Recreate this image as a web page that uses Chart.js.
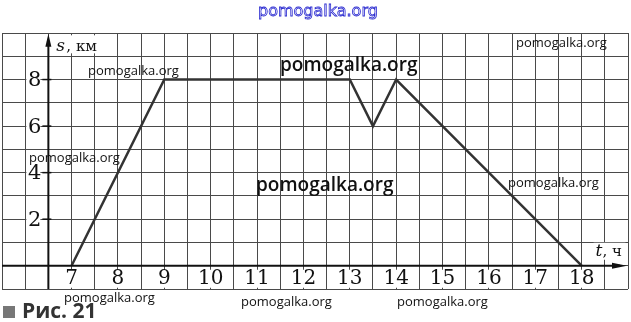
<!DOCTYPE html>
<html>
<head>
<meta charset="utf-8">
<script src="https://cdn.jsdelivr.net/npm/chart.js@4.4.1/dist/chart.umd.min.js"></script>
<style>
  html, body { margin: 0; padding: 0; background: #fff; }
  #wrap { width: 631px; height: 322px; position: relative; }
</style>
</head>
<body>
<div id="wrap"><canvas id="motionChart"></canvas></div>
<script>
// path of the trip: time (h) and distance (km)
const timeValues = [7, 9, 13, 13.5, 14, 18];
const distValues = [0, 8, 8, 6, 8, 0];

// tick labels
const xTickLabels = [7, 8, 9, 10, 11, 12, 13, 14, 15, 16, 17, 18];
const yTickLabels = [2, 4, 6, 8];

// watermark texts
const watermarks = ["pomogalka.org"];

const points = timeValues.map((t, i) => ({ x: t, y: distValues[i] }));

// draws axes with arrows, tick labels and the extra texts
const axesPlugin = {
    id: "axesPlugin",
    afterDatasetsDraw(chart) {
        const ctx = chart.ctx;
        const xs = chart.scales.x;
        const ys = chart.scales.y;
        const x0 = xs.getPixelForValue(6.5);
        const y0 = ys.getPixelForValue(0);

        ctx.save();
        ctx.strokeStyle = "#111";
        ctx.fillStyle = "#111";
        ctx.lineWidth = 2;

        // y axis
        const yTop = ys.getPixelForValue(9.8);
        ctx.beginPath();
        ctx.moveTo(x0, ys.getPixelForValue(-1));
        ctx.lineTo(x0, yTop + 4);
        ctx.stroke();
        ctx.beginPath();
        ctx.moveTo(x0, yTop - 4);
        ctx.lineTo(x0 - 3, yTop + 9);
        ctx.lineTo(x0 + 3, yTop + 9);
        ctx.closePath();
        ctx.fill();

        // x axis
        const xRight = xs.getPixelForValue(19) - 2;
        ctx.beginPath();
        ctx.moveTo(xs.getPixelForValue(5.5), y0);
        ctx.lineTo(xRight - 6, y0);
        ctx.stroke();
        ctx.beginPath();
        ctx.moveTo(xRight + 1, y0);
        ctx.lineTo(xRight - 14, y0 - 3);
        ctx.lineTo(xRight - 14, y0 + 3);
        ctx.closePath();
        ctx.fill();

        // y ticks and labels
        ctx.lineWidth = 1.5;
        ctx.font = "21px 'DejaVu Serif'";
        ctx.textAlign = "right";
        ctx.textBaseline = "middle";
        yTickLabels.forEach(v => {
            const py = ys.getPixelForValue(v);
            ctx.beginPath();
            ctx.moveTo(x0 - 6, py);
            ctx.lineTo(x0 + 3, py);
            ctx.stroke();
            ctx.fillStyle = "#fff";
            ctx.fillRect(x0 - 22, py - 9, 14, 18);
            ctx.fillStyle = "#111";
            ctx.fillText(String(v), x0 - 7, py + 1);
        });

        // x labels
        ctx.textAlign = "center";
        ctx.font = "20px 'DejaVu Serif'";
        xTickLabels.forEach(v => {
            const px = xs.getPixelForValue(v);
            const w = ctx.measureText(String(v)).width;
            ctx.fillStyle = "#fff";
            ctx.fillRect(px - w / 2 - 1, y0 + 4, w + 2, 18);
            ctx.fillStyle = "#111";
            ctx.fillText(String(v), px, y0 + 13);
        });

        // axis names
        ctx.textAlign = "left";
        ctx.fillStyle = "#fff";
        ctx.fillRect(x0 + 6, ys.getPixelForValue(9.9), 46, 18);
        ctx.fillStyle = "#111";
        ctx.font = "italic 17px 'DejaVu Serif'";
        ctx.fillText("s", x0 + 8, ys.getPixelForValue(9.4));
        ctx.font = "15px 'DejaVu Serif'";
        ctx.fillText(", км", x0 + 18, ys.getPixelForValue(9.4));

        const tx = xs.getPixelForValue(18.3);
        const ty = ys.getPixelForValue(0.6);
        ctx.fillStyle = "#fff";
        ctx.fillRect(tx - 2, ty - 9, 32, 17);
        ctx.fillStyle = "#111";
        ctx.font = "italic 17px 'DejaVu Serif'";
        ctx.fillText("t", tx, ty);
        ctx.font = "15px 'DejaVu Serif'";
        ctx.fillText(", ч", tx + 7, ty);

        // watermarks
        ctx.fillStyle = "#111";
        ctx.textAlign = "left";
        ctx.font = "13px 'Open Sans'";
        [[88, 71], [516, 43], [29, 158], [508, 183], [64, 298], [241, 302], [397, 302]].forEach(p => {
            ctx.fillText(watermarks[0], p[0], p[1]);
        });
        ctx.font = "600 19px 'Open Sans'";
        ctx.fillText(watermarks[0], 280, 66);
        ctx.fillText(watermarks[0], 256, 186);

        ctx.font = "16px 'DejaVu Sans'";
        ctx.lineWidth = 0.8;
        ctx.strokeStyle = "#2a2ad0";
        ctx.strokeText(watermarks[0], 258, 12);

        // figure caption
        ctx.fillStyle = "#777";
        ctx.fillRect(3, 306, 12, 12);
        ctx.fillStyle = "#333";
        ctx.font = "bold 21px 'Open Sans'";
        ctx.fillText("Рис. 21", 22, 312);
        ctx.restore();
    }
};

const ctx = document.getElementById("motionChart").getContext("2d");

new Chart(ctx, {
    type: "scatter",
    data: {
        datasets: [
            {
                data: points,
                showLine: true,
                borderColor: "#333",
                borderWidth: 2.5,
                pointRadius: 0,
                tension: 0,
            },
        ],
    },
    options: {
        responsive: true,
        maintainAspectRatio: false,
        animation: false,
        layout: {
            padding: { left: 2, right: 3, top: 33, bottom: 33 },
        },
        plugins: {
            legend: { display: false },
            tooltip: { enabled: false },
        },
        scales: {
            x: {
                type: "linear",
                min: 5.5,
                max: 19,
                ticks: { display: false, stepSize: 0.5 },
                grid: { color: "#4a4a4a", lineWidth: 1, drawTicks: false },
                border: { display: false },
            },
            y: {
                type: "linear",
                min: -1,
                max: 10,
                ticks: { display: false, stepSize: 1 },
                grid: { color: "#4a4a4a", lineWidth: 1, drawTicks: false },
                border: { display: false },
            },
        },
    },
    plugins: [axesPlugin],
});
</script>
</body>
</html>
